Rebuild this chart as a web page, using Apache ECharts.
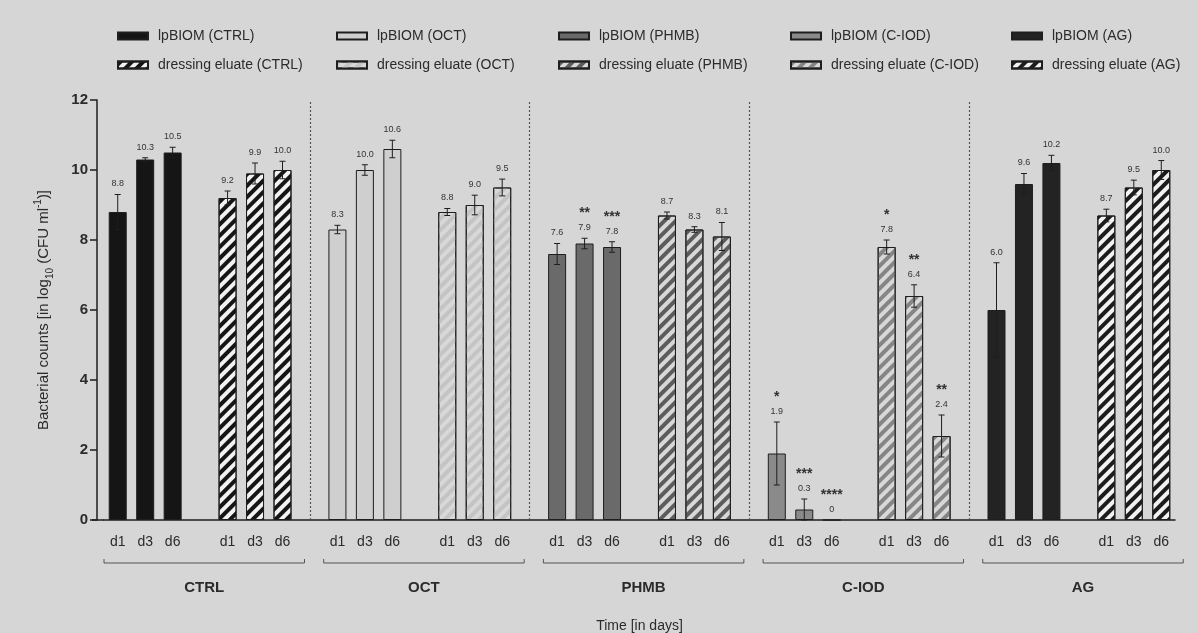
<!DOCTYPE html>
<html>
<head>
<meta charset="utf-8">
<script src="https://cdn.jsdelivr.net/npm/echarts@6/dist/echarts.min.js"></script>
<style>
  html, body { margin: 0; padding: 0; background: #d6d6d6; }
  #main { width: 1197px; height: 633px; }
</style>
</head>
<body>
<div id="main"></div>
<script>
var groups = ['CTRL', 'OCT', 'PHMB', 'C-IOD', 'AG'];
var days = ['d1', 'd3', 'd6'];

// mean log10 counts, d1 / d3 / d6
var ctrlBiom = [8.8, 10.3, 10.5];
var ctrlEluate = [9.2, 9.9, 10.0];
var octBiom = [8.3, 10.0, 10.6];
var octEluate = [8.8, 9.0, 9.5];
var phmbBiom = [7.6, 7.9, 7.8];
var phmbEluate = [8.7, 8.3, 8.1];
var ciodBiom = [1.9, 0.3, 0];
var ciodEluate = [7.8, 6.4, 2.4];
var agBiom = [6.0, 9.6, 10.2];
var agEluate = [8.7, 9.5, 10.0];

// error bars (half length)
var ctrlBiomErr = [0.5, 0.05, 0.15];
var ctrlEluateErr = [0.2, 0.3, 0.25];
var octBiomErr = [0.12, 0.15, 0.25];
var octEluateErr = [0.1, 0.28, 0.24];
var phmbBiomErr = [0.3, 0.15, 0.15];
var phmbEluateErr = [0.1, 0.08, 0.4];
var ciodBiomErr = [0.9, 0.3, 0];
var ciodEluateErr = [0.2, 0.32, 0.6];
var agBiomErr = [1.35, 0.3, 0.22];
var agEluateErr = [0.18, 0.21, 0.27];

// significance marks
var phmbBiomStars = ['', '**', '***'];
var ciodBiomStars = ['*', '***', '****'];
var ciodEluateStars = ['*', '**', '**'];

var textColor = '#2b2b2b';
var font = 'Liberation Sans, Arial, sans-serif';

// one entry per bar series: name, group, part (0 = lpBIOM, 1 = eluate)
var seriesDefs = [
  { name: 'lpBIOM (CTRL)', g: 0, p: 0, v: ctrlBiom, e: ctrlBiomErr, s: null, color: '#151515' },
  { name: 'dressing eluate (CTRL)', g: 0, p: 1, v: ctrlEluate, e: ctrlEluateErr, s: null, color: '#f2f2f2', stripe: '#151515' },
  { name: 'lpBIOM (OCT)', g: 1, p: 0, v: octBiom, e: octBiomErr, s: null, color: '#cfcfcf' },
  { name: 'dressing eluate (OCT)', g: 1, p: 1, v: octEluate, e: octEluateErr, s: null, color: '#d8d8d8', stripe: '#c4c4c4' },
  { name: 'lpBIOM (PHMB)', g: 2, p: 0, v: phmbBiom, e: phmbBiomErr, s: phmbBiomStars, color: '#6a6a6a' },
  { name: 'dressing eluate (PHMB)', g: 2, p: 1, v: phmbEluate, e: phmbEluateErr, s: null, color: '#d8d8d8', stripe: '#5c5c5c' },
  { name: 'lpBIOM (C-IOD)', g: 3, p: 0, v: ciodBiom, e: ciodBiomErr, s: ciodBiomStars, color: '#8a8a8a' },
  { name: 'dressing eluate (C-IOD)', g: 3, p: 1, v: ciodEluate, e: ciodEluateErr, s: ciodEluateStars, color: '#d8d8d8', stripe: '#858585' },
  { name: 'lpBIOM (AG)', g: 4, p: 0, v: agBiom, e: agBiomErr, s: null, color: '#232323' },
  { name: 'dressing eluate (AG)', g: 4, p: 1, v: agEluate, e: agEluateErr, s: null, color: '#f2f2f2', stripe: '#1c1c1c' }
];

// category slots: d1 d3 d6 | gap | d1 d3 d6 | gap ...
var slots = [];
groups.forEach(function (g, gi) {
  [0, 1].forEach(function (p) {
    days.forEach(function (d) { slots.push(g + '|' + p + '|' + d); });
    if (!(gi === groups.length - 1 && p === 1)) slots.push('gap' + slots.length);
  });
});
function slotIndex(g, p, d) { return g * 8 + p * 4 + d; }

var series = [];
var errData = [];
var annot = [];
seriesDefs.forEach(function (def) {
  var data = slots.map(function () { return null; });
  def.v.forEach(function (val, d) {
    var idx = slotIndex(def.g, def.p, d);
    data[idx] = val;
    errData.push([idx, val, def.e[d]]);
    annot.push({ label: val === 0 ? '0' : val.toFixed(1), stars: def.s ? def.s[d] : '' });
  });
  var itemStyle = { color: def.color, borderColor: '#1e1e1e', borderWidth: 1 };
  if (def.stripe) {
    itemStyle.decal = {
      symbol: 'rect', symbolSize: 1, color: def.stripe,
      dashArrayX: [1, 0], dashArrayY: [3.2, 3.2], rotation: -Math.PI / 4
    };
  }
  series.push({
    name: def.name, type: 'bar', data: data, barWidth: 18, barGap: '-100%',
    itemStyle: itemStyle, silent: true
  });
});

// dotted separators between treatments
series[0].markLine = {
  silent: true, symbol: 'none', label: { show: false },
  lineStyle: { type: [2, 2], color: '#555', width: 1.2 },
  data: [7, 15, 23, 31].map(function (i) { return { xAxis: slots[i] }; })
};

series.push({
  type: 'custom', data: errData, z: 5, silent: true,
  encode: { x: 0, y: 1 },
  renderItem: function (params, api) {
    var x = api.value(0), m = api.value(1), e = api.value(2);
    var top = api.coord([x, m + e]);
    var bot = api.coord([x, Math.max(m - e, 0)]);
    var cx = top[0];
    var st = { stroke: '#1e1e1e', lineWidth: 1 };
    var ch = [];
    if (e > 0) {
      ch.push({ type: 'line', shape: { x1: cx, y1: top[1], x2: cx, y2: bot[1] }, style: st });
      ch.push({ type: 'line', shape: { x1: cx - 3, y1: top[1], x2: cx + 3, y2: top[1] }, style: st });
      ch.push({ type: 'line', shape: { x1: cx - 3, y1: bot[1], x2: cx + 3, y2: bot[1] }, style: st });
    }
    var a = annot[params.dataIndex];
    var ly = top[1] - 6;
    ch.push({ type: 'text', style: { text: a.label, x: cx, y: ly, align: 'center', verticalAlign: 'bottom',
      fontSize: 9, fill: '#333', fontFamily: font } });
    if (a.stars) {
      ch.push({ type: 'text', style: { text: a.stars, x: cx, y: ly - 12, align: 'center', verticalAlign: 'bottom',
        fontSize: 14, fontWeight: 'bold', fill: '#333', fontFamily: font } });
    }
    return { type: 'group', children: ch };
  }
});

var legendLeft = [112, 331, 553, 785, 1006];
var legends = groups.map(function (g, gi) {
  return {
    orient: 'vertical', left: legendLeft[gi], top: 24, itemGap: 15,
    itemWidth: 30, itemHeight: 7, icon: 'rect', selectedMode: false,
    textStyle: { fontSize: 14, color: textColor, fontFamily: font, padding: [0, 0, 0, 5] },
    data: [seriesDefs[gi * 2].name, seriesDefs[gi * 2 + 1].name]
  };
});

var chart = echarts.init(document.getElementById('main'));
chart.setOption({
  backgroundColor: '#d6d6d6',
  animation: false,
  legend: legends,
  grid: { left: 104, right: 22, top: 100, bottom: 113, outerBoundsMode: 'none' },
  xAxis: {
    type: 'category', data: slots,
    name: 'Time [in days]', nameLocation: 'middle', nameGap: 99,
    nameTextStyle: { fontSize: 14, color: textColor, fontFamily: font },
    axisLine: { lineStyle: { color: '#1e1e1e', width: 1.5 } },
    axisTick: { alignWithLabel: true, length: 9, lineStyle: { color: '#1e1e1e', width: 1.5 },
      interval: function (i, v) { return v.indexOf('gap') !== 0; } },
    axisLabel: { interval: 0, margin: 15, fontSize: 14, color: textColor, fontFamily: font,
      formatter: function (v) { return v.indexOf('gap') === 0 ? '' : v.split('|')[2]; } }
  },
  yAxis: {
    type: 'value', min: 0, max: 12, interval: 2, offset: 7,
    name: '{a|Bacterial counts [in log}{sub|10}{a| (CFU ml}{sup|-1}{a|)]}',
    nameLocation: 'middle', nameGap: 42,
    nameTextStyle: {
      rich: {
        a: { fontSize: 15, color: textColor, fontFamily: font, lineHeight: 22 },
        sub: { fontSize: 10, color: textColor, fontFamily: font, lineHeight: 22, verticalAlign: 'bottom' },
        sup: { fontSize: 10, color: textColor, fontFamily: font, lineHeight: 22, verticalAlign: 'top' }
      }
    },
    axisLine: { show: true, lineStyle: { color: '#1e1e1e', width: 1.5 } },
    axisTick: { show: true, length: 7, lineStyle: { color: '#1e1e1e', width: 1.5 } },
    axisLabel: { fontSize: 15, fontWeight: 'bold', color: textColor, fontFamily: font, margin: 9 },
    splitLine: { show: false }
  },
  series: series
});

// treatment brackets and names under the day labels, placed from the axis scale
var px = function (i) { return chart.convertToPixel({ xAxisIndex: 0 }, i); };
var zeroY = chart.convertToPixel({ yAxisIndex: 0 }, 0);
var step = px(1) - px(0);
var gridLeft = px(0) - step / 2;
var graphics = [{ type: 'line', silent: true,
  shape: { x1: gridLeft - 12, y1: zeroY, x2: gridLeft, y2: zeroY },
  style: { stroke: '#1e1e1e', lineWidth: 1.5 } }];
groups.forEach(function (g, gi) {
  var x1 = px(gi * 8) - 0.5 * step;
  var x2 = px(gi * 8 + 6) + 0.8 * step;
  var y = 563;
  graphics.push({ type: 'polyline', silent: true,
    shape: { points: [[x1, y - 4], [x1, y], [x2, y], [x2, y - 4]] },
    style: { stroke: '#555', lineWidth: 1, fill: null } });
  graphics.push({ type: 'text', silent: true, x: (x1 + x2) / 2, y: 588,
    style: { text: g, align: 'center', verticalAlign: 'middle', fontSize: 15, fontWeight: 'bold',
      fill: textColor, fontFamily: font } });
});
chart.setOption({ graphic: graphics });
</script>
</body>
</html>
